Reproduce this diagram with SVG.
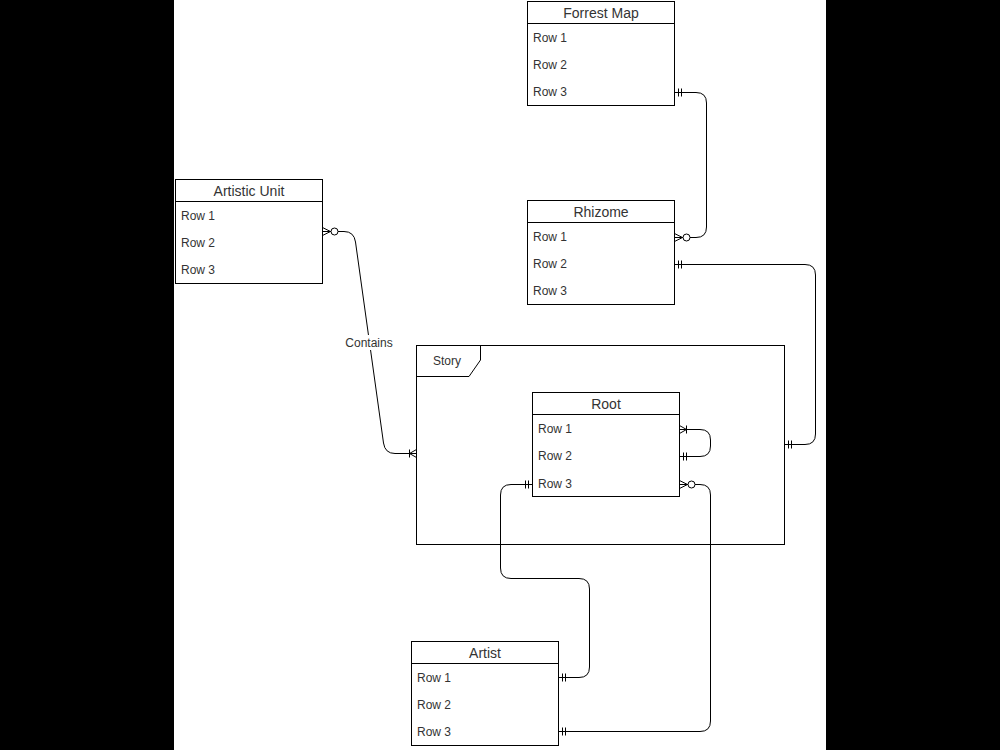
<svg xmlns="http://www.w3.org/2000/svg" width="1000" height="750" viewBox="0 0 1000 750">
<style>
.box{fill:#fff;stroke:#000;stroke-width:1}
.hdr{font-family:"Liberation Sans",Arial,sans-serif;font-size:14px;fill:#333;text-anchor:middle}
.row{font-family:"Liberation Sans",Arial,sans-serif;font-size:12px;fill:#333}
.edge{fill:none;stroke:#000;stroke-width:1}
.mk{fill:none;stroke:#000;stroke-width:1}
</style>
<defs>
<marker id="mandOne" markerUnits="userSpaceOnUse" viewBox="-12 -6 14 12" refX="0" refY="0" markerWidth="14" markerHeight="12" orient="auto-start-reverse" overflow="visible">
<path class="mk" d="M-4,-4V4M-7,-4V4"/>
</marker>
<marker id="zeroMany" markerUnits="userSpaceOnUse" viewBox="-18 -6 20 12" refX="0" refY="0" markerWidth="20" markerHeight="12" orient="auto-start-reverse" overflow="visible">
<path class="mk" d="M0,-4L-8,0L0,4M-8,0H0"/>
<circle cx="-12" cy="0" r="3.5" fill="#fff" stroke="#000" stroke-width="1"/>
</marker>
<marker id="oneMany" markerUnits="userSpaceOnUse" viewBox="-12 -6 14 12" refX="0" refY="0" markerWidth="14" markerHeight="12" orient="auto-start-reverse" overflow="visible">
<path class="mk" d="M0,-4L-7,0L0,4M-7,-4V4M-7,0H0"/>
</marker>
</defs>
<rect x="0" y="0" width="1000" height="750" fill="#fff"/>
<rect x="0" y="0" width="174" height="750" fill="#000"/>
<rect x="826" y="0" width="174" height="750" fill="#000"/>

<g id="story">
<rect class="box" x="416.5" y="345.5" width="368" height="199"/>
<path d="M416.5,376.5H469L480.5,360V345.5" fill="none" stroke="#000"/>
<text class="row" x="433" y="365">Story</text>
</g>

<g id="forrest-map">
<rect class="box" x="527.5" y="1.5" width="147" height="104"/>
<line x1="527.5" y1="23.5" x2="674.5" y2="23.5" stroke="#000"/>
<text class="hdr" x="601" y="18">Forrest Map</text>
<text class="row" x="533" y="42">Row 1</text>
<text class="row" x="533" y="69">Row 2</text>
<text class="row" x="533" y="96">Row 3</text>
</g>

<g id="artistic-unit">
<rect class="box" x="175.5" y="179.5" width="147" height="104"/>
<line x1="175.5" y1="201.5" x2="322.5" y2="201.5" stroke="#000"/>
<text class="hdr" x="249" y="196">Artistic Unit</text>
<text class="row" x="181" y="220">Row 1</text>
<text class="row" x="181" y="247">Row 2</text>
<text class="row" x="181" y="274">Row 3</text>
</g>

<g id="rhizome">
<rect class="box" x="527.5" y="200.5" width="147" height="104"/>
<line x1="527.5" y1="222.5" x2="674.5" y2="222.5" stroke="#000"/>
<text class="hdr" x="601" y="217">Rhizome</text>
<text class="row" x="533" y="241">Row 1</text>
<text class="row" x="533" y="268">Row 2</text>
<text class="row" x="533" y="295">Row 3</text>
</g>

<g id="root">
<rect class="box" x="532.5" y="392.5" width="147" height="104"/>
<line x1="532.5" y1="414.5" x2="679.5" y2="414.5" stroke="#000"/>
<text class="hdr" x="606" y="409">Root</text>
<text class="row" x="538" y="433">Row 1</text>
<text class="row" x="538" y="460">Row 2</text>
<text class="row" x="538" y="488">Row 3</text>
</g>

<g id="artist">
<rect class="box" x="411.5" y="641.5" width="147" height="104"/>
<line x1="411.5" y1="663.5" x2="558.5" y2="663.5" stroke="#000"/>
<text class="hdr" x="485" y="658">Artist</text>
<text class="row" x="417" y="682">Row 1</text>
<text class="row" x="417" y="709">Row 2</text>
<text class="row" x="417" y="736">Row 3</text>
</g>

<g id="connectors">
<path class="edge" d="M674.5,92.5H696Q706.5,92.5 706.5,103V227Q706.5,237.5 696,237.5H674.5" marker-start="url(#mandOne)" marker-end="url(#zeroMany)"/>
<path class="edge" d="M674.5,264.5H805Q815.5,264.5 815.5,275V434Q815.5,444.5 805,444.5H784.5" marker-start="url(#mandOne)" marker-end="url(#mandOne)"/>
<path class="edge" d="M322.5,231.5H344Q354,231.5 355.5,242L383.5,443Q385,453.5 395,453.5H416.5" marker-start="url(#zeroMany)" marker-end="url(#oneMany)"/>
<path class="edge" d="M679.5,429.5H700Q710.5,429.5 710.5,440V446Q710.5,456.5 700,456.5H679.5" marker-start="url(#oneMany)" marker-end="url(#mandOne)"/>
<path class="edge" d="M532.5,484.5H511Q500.5,484.5 500.5,495V568Q500.5,578.5 511,578.5H579Q589.5,578.5 589.5,589V667Q589.5,677.5 579,677.5H558.5" marker-start="url(#mandOne)" marker-end="url(#mandOne)"/>
<path class="edge" d="M679.5,484.5H700Q710.5,484.5 710.5,495V721Q710.5,731.5 700,731.5H558.5" marker-start="url(#zeroMany)" marker-end="url(#mandOne)"/>
<rect x="344" y="335" width="50" height="15" fill="#fff"/>
<text class="row" x="369" y="347" text-anchor="middle">Contains</text>
</g>
</svg>
